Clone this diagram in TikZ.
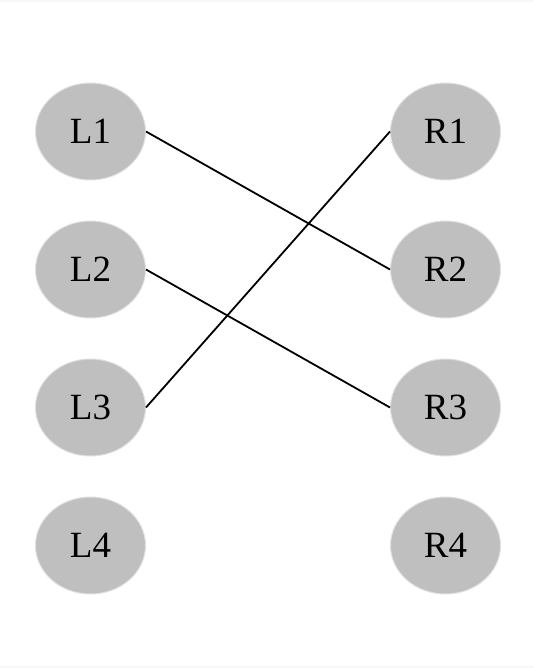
\documentclass[tikz,border=0pt]{standalone}
\usepackage{fontspec}
\setmainfont{Liberation Serif}
\usetikzlibrary{shapes.geometric}
\begin{document}
\begin{tikzpicture}[x=1pt,y=-1pt,
  vert/.style={ellipse,draw=black!12,line width=1pt,fill=black!25,minimum width=110pt,minimum height=97pt,inner sep=0pt,font=\fontsize{37}{37}\selectfont},
  link/.style={draw=black,line width=1.8pt}]
\useasboundingbox (0,0) rectangle (534,668);
\fill[black!3] (0,0) rectangle (534,2.5);
\fill[black!3] (0,665.5) rectangle (534,668);
\node[vert] (L1) at (90.5,131.5) {L1};
\node[vert] (L2) at (90.5,269.5) {L2};
\node[vert] (L3) at (90.5,407.5) {L3};
\node[vert] (L4) at (90.5,545.5) {L4};
\node[vert] (R1) at (445.5,131.5) {R1};
\node[vert] (R2) at (445.5,269.5) {R2};
\node[vert] (R3) at (445.5,407.5) {R3};
\node[vert] (R4) at (445.5,545.5) {R4};
\draw[link] (L1.east) -- (R2.west);
\draw[link] (L2.east) -- (R3.west);
\draw[link] (L3.east) -- (R1.west);
\end{tikzpicture}
\end{document}
